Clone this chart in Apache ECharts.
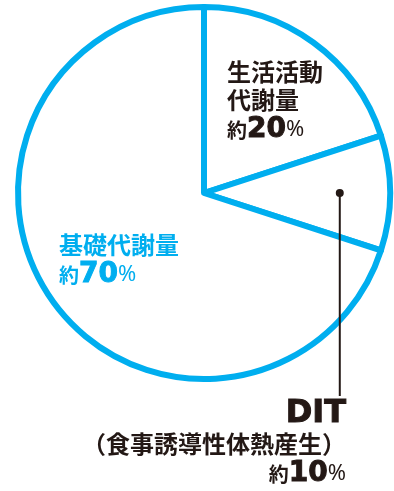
<!DOCTYPE html>
<html>
<head>
<meta charset="utf-8">
<script src="https://cdn.jsdelivr.net/npm/echarts@6/dist/echarts.min.js"></script>
<style>
  html, body { margin: 0; padding: 0; background: #fff; }
  #chart { width: 394px; height: 491px; }
</style>
</head>
<body>
<div id="chart"></div>
<script>
// Energy expenditure breakdown
const categories = ['生活活動代謝量', 'DIT', '基礎代謝量'];
const values = [20, 10, 70];
const titleLines = [['生活活動', '代謝量'], ['DIT', '（食事誘導性体熱産生）'], ['基礎代謝量']];

const CYAN = '#00aeef';
const INK = '#231815';
const CX = 204, CY = 193, R = 186;

const JP = '"Noto Sans CJK JP", sans-serif';
const NUM = '"DejaVu Sans", sans-serif';

function richFor(color) {
  return {
    k: { fontFamily: JP, fontWeight: 'bold', fontSize: 24, color: color, lineHeight: 28 },
    d: { fontFamily: NUM, fontWeight: 'bold', fontSize: 32, color: color, lineHeight: 32,
         textBorderColor: color, textBorderWidth: 1 },
    s: { fontFamily: JP, fontWeight: 'bold', fontSize: 20, color: color, lineHeight: 32 },
    n: { fontFamily: NUM, fontWeight: 'bold', fontSize: 28, color: color, lineHeight: 32,
         textBorderColor: color, textBorderWidth: 1 },
    p: { fontFamily: '"Noto Sans", sans-serif', fontWeight: 'normal', fontSize: 22, color: color, lineHeight: 32 }
  };
}

function labelText(i) {
  const lines = titleLines[i].map(function (t) { return t === 'DIT' ? '{d|' + t + '}' : '{k|' + t + '}'; });
  lines.push('{s|約}{n|' + values[i] + '}{p|%}');
  return lines.join('\n');
}

const labelColors = [INK, INK, CYAN];
const labelPlaces = [
  { x: 227, y: 58, align: 'left' },
  { x: 346, y: 398, align: 'right' },
  { x: 59, y: 231, align: 'left' }
];

const chart = echarts.init(document.getElementById('chart'), null, { renderer: 'canvas' });

// leader dot for the DIT slice, placed at its mid-angle
let acc = 0;
const total = values.reduce(function (a, b) { return a + b; }, 0);
for (let i = 0; i < 1; i++) acc += values[i];
const midFrac = (acc + values[1] / 2) / total;
const ang = midFrac * Math.PI * 2; // clockwise from 12 o'clock
const dotR = R * 0.73;
const dotX = CX + Math.sin(ang) * dotR;
const dotY = CY - Math.cos(ang) * dotR;

chart.setOption({
  animation: false,
  backgroundColor: '#fff',
  series: [{
    type: 'pie',
    center: [CX, CY],
    radius: [0, R],
    startAngle: 90,
    clockwise: true,
    silent: true,
    itemStyle: { color: '#fff', borderColor: CYAN, borderWidth: 6 },
    data: categories.map(function (c, i) {
      return {
        name: c,
        value: values[i],
        label: { rich: richFor(labelColors[i]) }
      };
    }),
    label: {
      show: true,
      position: 'inside',
      formatter: function (p) { return labelText(p.dataIndex); }
    },
    labelLine: { show: false },
    labelLayout: function (p) {
      const pl = labelPlaces[p.dataIndex];
      return { x: pl.x, y: pl.y, align: pl.align, verticalAlign: 'top' };
    }
  }],
  graphic: [
    {
      type: 'line',
      shape: { x1: dotX, y1: dotY, x2: dotX, y2: 396 },
      style: { stroke: INK, lineWidth: 2 },
      z: 10
    },
    {
      type: 'circle',
      shape: { cx: dotX, cy: dotY, r: 4 },
      style: { fill: INK },
      z: 10
    }
  ]
});
</script>
</body>
</html>
